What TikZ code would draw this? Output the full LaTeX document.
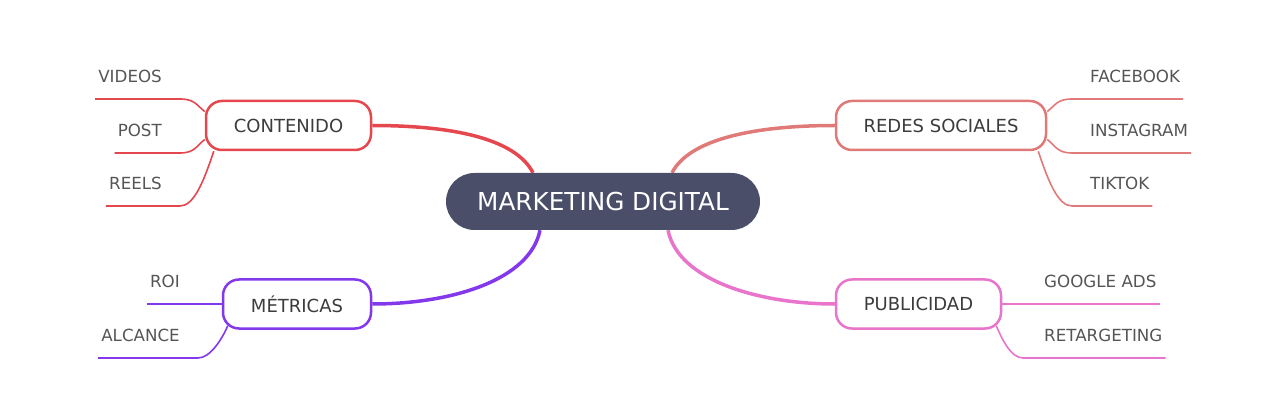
\documentclass[tikz,border=0pt]{standalone}
\usepackage{fontspec}
\setmainfont{DejaVu Sans}
\usepackage{tikz}
\definecolor{main_fill}{HTML}{4A4E69}
\definecolor{branch_text}{HTML}{3C3C3C}
\definecolor{leaf_text}{HTML}{555555}
\definecolor{c_red}{HTML}{E5474F}
\definecolor{c_salmon}{HTML}{E07A78}
\definecolor{c_purple}{HTML}{8338EC}
\definecolor{c_pink}{HTML}{E874CB}
\tikzset{
  root_font/.style = {font=\fontsize{24.7}{28}\selectfont},
  branch_font/.style = {font=\fontsize{18}{21}\selectfont},
  leaf_font/.style = {font=\fontsize{16.7}{19}\selectfont}
}
\tikzset{
  root/.style = {root_font, text=white, fill=main_fill, rounded corners=28.5pt, minimum width=314pt, minimum height=57pt},
  branch/.style = {branch_font, text=branch_text, draw=#1, line width=2.5pt, fill=white, rounded corners=16pt, minimum height=49pt},
  leaf_left/.style = {leaf_font, text=leaf_text, anchor=south east, inner xsep=3pt, inner ysep=0pt, text height=12.2pt, text depth=16pt},
  leaf_right/.style = {leaf_left, anchor=south west},
  trunk/.style = {draw=#1, line width=3.5pt},
  twig/.style = {draw=#1, line width=1.6pt}
}
\usetikzlibrary{backgrounds, calc}

\begin{document}
\begin{tikzpicture}[x=1pt, y=-1pt]
    \useasboundingbox (0,0) rectangle (1287,403);

    % Root
    \node[root] (main) at (603,201.5) {MARKETING DIGITAL};

    % Branches
    \node[branch=c_red, minimum width=165pt] (contenido) at (288.5,125.5) {CONTENIDO};
    \node[branch=c_salmon, minimum width=210pt] (redes) at (941,125.5) {REDES SOCIALES};
    \node[branch=c_purple, minimum width=148pt] (metricas) at (297,304) {MÉTRICAS};
    \node[branch=c_pink, minimum width=165pt] (publicidad) at (918.5,304) {PUBLICIDAD};

    % Leaves
    \node[leaf_left] (videos) at (165,99) {VIDEOS};
    \node[leaf_left] (post) at (165,153) {POST};
    \node[leaf_left] (reels) at (165,206) {REELS};
    \node[leaf_right] (facebook) at (1087,99) {FACEBOOK};
    \node[leaf_right] (instagram) at (1087,153) {INSTAGRAM};
    \node[leaf_right] (tiktok) at (1087,206) {TIKTOK};
    \node[leaf_left] (roi) at (183,304) {ROI};
    \node[leaf_left] (alcance) at (183,358) {ALCANCE};
    \node[leaf_right] (google) at (1041,304) {GOOGLE ADS};
    \node[leaf_right] (retargeting) at (1041,358) {RETARGETING};

    % Lines
    \begin{scope}[on background layer]
        \draw[trunk=c_red] (contenido.east) .. controls +(78,0) and +(-18,-35) .. ([shift={(-70,0)}]main.north);
        \draw[trunk=c_salmon] ([shift={(69,0)}]main.north) .. controls +(18,-35) and +(-76,0) .. (redes.west);
        \draw[trunk=c_purple] (metricas.east) .. controls +(79,0) and +(-10,50) .. ([shift={(-63,0)}]main.south);
        \draw[trunk=c_pink] ([shift={(65,0)}]main.south) .. controls +(10,50) and +(-76,0) .. (publicidad.west);

        \draw[twig=c_red] (videos.south west) -- ([shift={(15,0)}]videos.south east) .. controls +(15,0) and +(-8,-6) .. ([shift={(0,-14)}]contenido.west);
        \draw[twig=c_red] (post.south west) -- ([shift={(15,0)}]post.south east) .. controls +(15,0) and +(-8,6) .. ([shift={(0,14)}]contenido.west);
        \draw[twig=c_red] (reels.south west) -- ([shift={(15,0)}]reels.south east) .. controls +(14,0) and +(-10,30) .. ([shift={(9,0)}]contenido.south west);

        \draw[twig=c_salmon] (facebook.south east) -- ([shift={(-15,0)}]facebook.south west) .. controls +(-15,0) and +(8,-6) .. ([shift={(0,-14)}]redes.east);
        \draw[twig=c_salmon] (instagram.south east) -- ([shift={(-15,0)}]instagram.south west) .. controls +(-15,0) and +(8,6) .. ([shift={(0,14)}]redes.east);
        \draw[twig=c_salmon] (tiktok.south east) -- ([shift={(-15,0)}]tiktok.south west) .. controls +(-14,0) and +(10,30) .. ([shift={(-9,0)}]redes.south east);

        \draw[twig=c_purple] (roi.south west) -- (metricas.west);
        \draw[twig=c_purple] (alcance.south west) -- ([shift={(15,0)}]alcance.south east) .. controls +(12,0) and +(-6,14) .. ([shift={(6,-4)}]metricas.south west);

        \draw[twig=c_pink] (publicidad.east) -- (google.south east);
        \draw[twig=c_pink] (retargeting.south east) -- ([shift={(-18,0)}]retargeting.south west) .. controls +(-12,0) and +(6,14) .. ([shift={(-6,-4)}]publicidad.south east);
    \end{scope}
\end{tikzpicture}
\end{document}
